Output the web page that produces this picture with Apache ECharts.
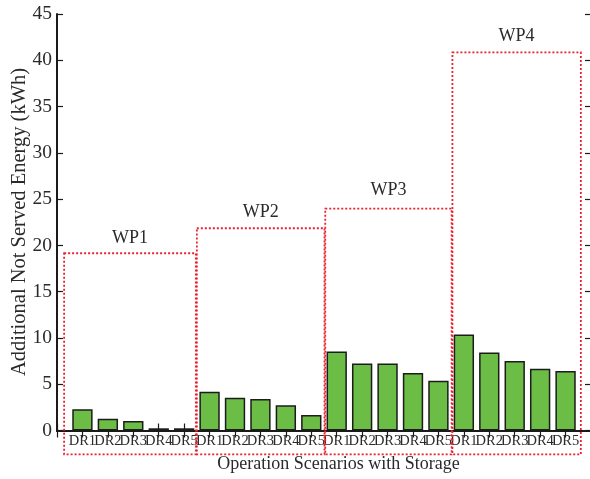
<!DOCTYPE html>
<html>
<head>
<meta charset="utf-8">
<title>Additional Not Served Energy</title>
<script src="https://cdn.jsdelivr.net/npm/echarts@6/dist/echarts.min.js"></script>
<style>
  html, body { margin: 0; padding: 0; background: #fff; }
  #chart { width: 590px; height: 479px; }
</style>
</head>
<body>
<div id="chart"></div>
<script>
// Demand-response scenarios within each wind-penetration group
const scenarios = ['DR1', 'DR2', 'DR3', 'DR4', 'DR5'];
const groups = ['WP1', 'WP2', 'WP3', 'WP4'];

// Additional not served energy (kWh), one array per group
const wp1 = [2.3, 1.27, 1.02, 0.24, 0.24];
const wp2 = [4.19, 3.54, 3.4, 2.72, 1.67];
const wp3 = [8.54, 7.25, 7.25, 6.2, 5.37];
const wp4 = [10.38, 8.44, 7.5, 6.67, 6.42];

// Group boxes: [from slot, to slot, upper value, lower value]
const groupBoxes = [
  [0.28, 5.46, 19.15, -2.57],
  [5.5, 10.52, 21.85, -2.57],
  [10.55, 15.52, 23.97, -2.57],
  [15.55, 20.6, 40.86, -2.57]
];
// Value at which each group caption sits
const groupCaptionAt = [20.77, 23.6, 25.98, 42.6];

const yTicks = { min: 0, max: 45, interval: 5 };

// Category slots: an empty slot at each end, bars on slots 1..20
const slots = [''].concat(scenarios, scenarios, scenarios, scenarios, ['']);
const barValues = ['-'].concat(wp1, wp2, wp3, wp4, ['-']);

const serif = '"Liberation Serif", "DejaVu Serif", serif';
const ink = '#2a2a2a';

const boxData = groupBoxes.map((b, i) => b.concat([groupCaptionAt[i], i]));

const chart = echarts.init(document.getElementById('chart'), null, { renderer: 'canvas' });

chart.setOption({
  animation: false,
  backgroundColor: '#fff',
  grid: { left: 57, top: 14, width: 534, height: 416.5, containLabel: false, outerBoundsMode: 'none' },
  xAxis: [
    {
      type: 'category', data: slots, boundaryGap: false, position: 'bottom',
      axisLine: { show: true, lineStyle: { color: '#1a1a1a', width: 2 } },
      axisTick: { show: true, inside: true, length: 7, interval: 0,
                  lineStyle: { color: '#1a1a1a', width: 1.2 } },
      axisLabel: { show: true, interval: 0, margin: 3, color: ink, fontFamily: serif, fontSize: 14.5 },
      splitLine: { show: false }
    },
    {
      type: 'category', data: slots, boundaryGap: false, position: 'top',
      axisLine: { show: true, lineStyle: { color: '#1a1a1a', width: 2 } },
      axisTick: { show: true, inside: true, length: 7, interval: 0,
                  lineStyle: { color: '#1a1a1a', width: 1.2 } },
      axisLabel: { show: false },
      splitLine: { show: false }
    },
    {
      type: 'value', min: 0, max: slots.length - 1, show: false
    }
  ],
  yAxis: [
    {
      type: 'value', min: yTicks.min, max: yTicks.max, interval: yTicks.interval, position: 'left',
      axisLine: { show: true, lineStyle: { color: '#1a1a1a', width: 2 } },
      axisTick: { show: true, inside: true, length: 6, lineStyle: { color: '#1a1a1a', width: 1.2 } },
      axisLabel: { color: ink, fontFamily: serif, fontSize: 19.5, margin: 5 },
      splitLine: { show: false }
    },
    {
      type: 'value', min: yTicks.min, max: yTicks.max, interval: yTicks.interval, position: 'right',
      axisLine: { show: false },
      axisTick: { show: true, inside: true, length: 6, lineStyle: { color: '#1a1a1a', width: 1.2 } },
      axisLabel: { show: false },
      splitLine: { show: false }
    }
  ],
  series: [
    {
      type: 'bar',
      xAxisIndex: 0, yAxisIndex: 0,
      data: barValues,
      barWidth: '80%',
      itemStyle: { color: '#6cbd45', borderColor: '#1c1c1c', borderWidth: 1.5 },
      z: 2
    },
    {
      type: 'custom',
      xAxisIndex: 2, yAxisIndex: 0,
      clip: false,
      z: 4,
      data: boxData,
      renderItem: function (params, api) {
        const x0 = api.value(0), x1 = api.value(1);
        const top = api.coord([x0, api.value(2)]);
        const bottom = api.coord([x1, api.value(3)]);
        const cap = api.coord([(x0 + x1) / 2, api.value(4)]);
        return {
          type: 'group',
          children: [
            {
              type: 'rect',
              shape: { x: top[0], y: top[1], width: bottom[0] - top[0], height: bottom[1] - top[1] },
              style: { fill: 'none', stroke: '#ea2230', lineWidth: 1.8, lineDash: [2, 2] }
            },
            {
              type: 'text',
              x: cap[0], y: cap[1],
              style: {
                text: groups[api.value(5)],
                fill: ink, font: '18px ' + serif,
                align: 'center', verticalAlign: 'middle'
              }
            }
          ]
        };
      }
    }
  ],
  graphic: [
    {
      type: 'text', x: 338.5, y: 464,
      style: { text: 'Operation Scenarios with Storage', fill: ink, font: '18px ' + serif,
               align: 'center', verticalAlign: 'middle' }
    },
    {
      type: 'text', x: 19.5, y: 222, rotation: Math.PI / 2,
      style: { text: 'Additional Not Served Energy (kWh)', fill: ink, font: '20.5px ' + serif,
               align: 'center', verticalAlign: 'middle' }
    }
  ]
});
</script>
</body>
</html>
